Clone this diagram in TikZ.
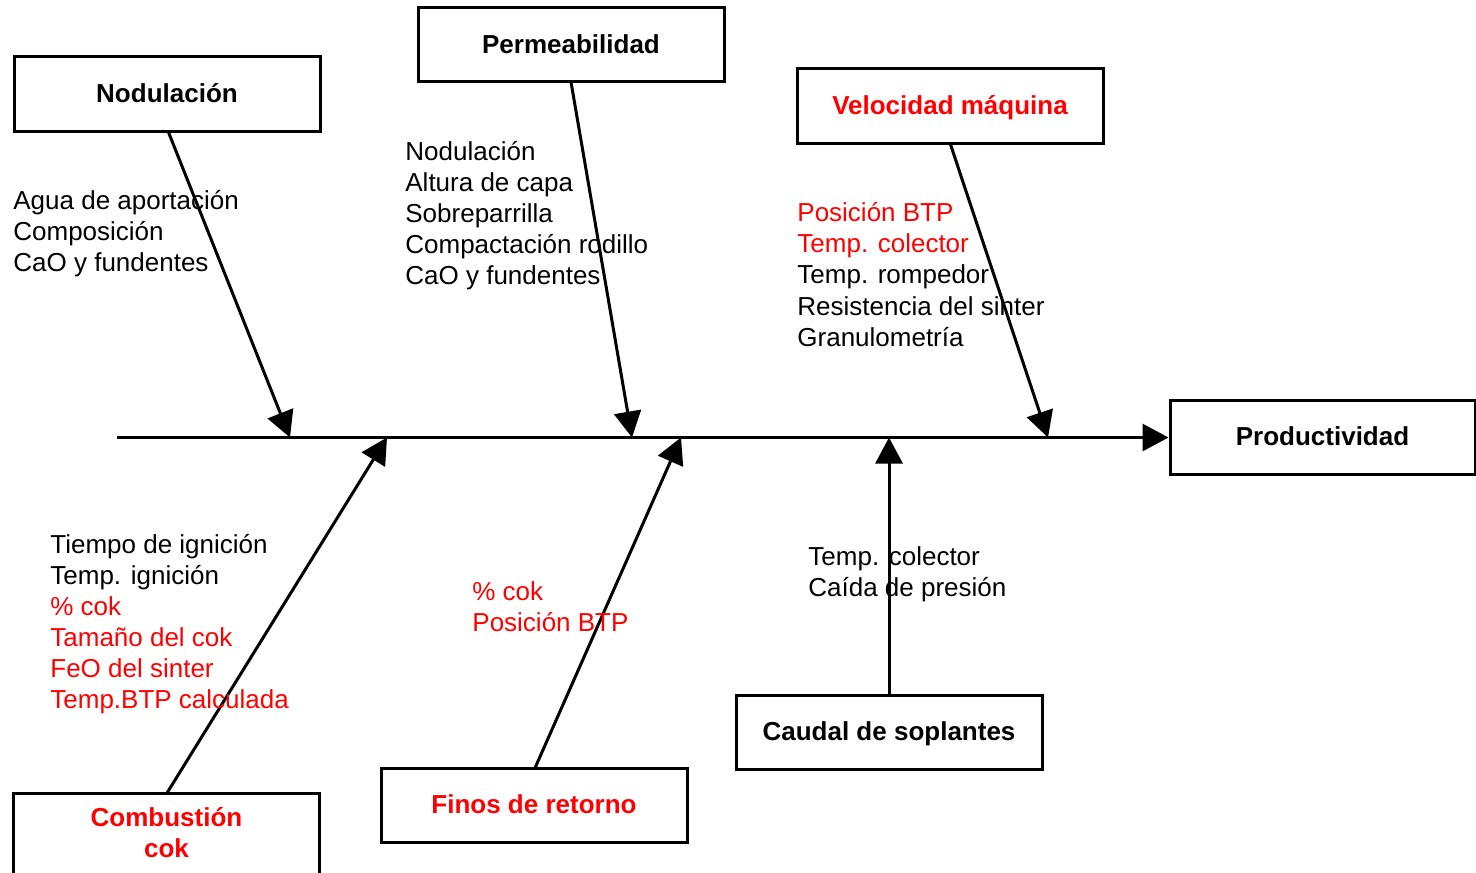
\documentclass[tikz,border=0pt]{standalone}
\usepackage{fontspec}
\setmainfont{Liberation Sans}
\usetikzlibrary{arrows.meta}
\definecolor{tred}{RGB}{255,0,0}
\begin{document}
\begin{tikzpicture}[x=0.5pt,y=-0.5pt,
  every node/.style={font=\fontsize{13}{15.5}\selectfont},
  box/.style={draw, line width=1.5pt, minimum width=153pt, minimum height=37pt, inner sep=0pt, text height=9.5pt, text depth=1.3pt, font=\fontsize{13}{15.5}\selectfont\bfseries, align=center},
  ln/.style={anchor=base west, inner sep=0pt},
  rd/.style={text=tred},
  arr/.style={line width=1.5pt, -{Triangle[length=13pt,width=13.5pt]}},
  seg/.style={line width=1.5pt}]
\clip (0,0) rectangle (1476,872);
\fill[white] (0,0) rectangle (1476,872);

% boxes
\node[box] (nod) at (167,94) {Nodulación};
\node[box] (perm) at (571,45) {Permeabilidad};
\node[box, text=tred] (vel) at (950,106) {Velocidad máquina};
\node[box, minimum width=152.5pt] (prod) at (1322.5,437.5) {Productividad};
\node[draw, line width=1.5pt, minimum width=153pt, minimum height=60pt, inner sep=0pt] (comb) at (166.5,853) {};
\node[font=\fontsize{13}{15.5}\selectfont\bfseries, text=tred, align=center, inner sep=0pt] (combt) at (166.5,833) {Combustión\\cok};
\node[box, text=tred] (finos) at (534,805) {Finos de retorno};
\node[box] (caud) at (889,732) {Caudal de soplantes};

% spine
\coordinate (s0) at (117,437.5);
\coordinate (p1) at (290,437.5);
\coordinate (p2) at (632,437.5);
\coordinate (p3) at (1048,437.5);
\coordinate (q1) at (387,437.5);
\coordinate (q2) at (681,437.5);
\coordinate (q3) at (889,437.5);
\coordinate (a1) at (168,131);
\coordinate (a2) at (571,82);
\coordinate (a3) at (950,143);
\coordinate (b1) at (167,793);
\coordinate (b2) at (535,768);
\coordinate (b3) at (889,695);
\draw[arr] (s0) -- (prod.west);
\draw[arr] (a1) -- (p1);
\draw[arr] (a2) -- (p2);
\draw[arr] (a3) -- (p3);
\draw[arr] (b1) -- (q1);
\draw[arr] (b2) -- (q2);
\draw[arr] (b3) -- (q3);

% texts
\node[ln] (t11) at (13,209) {Agua de aportación};
\node[ln] (t12) at (13,240) {Composición};
\node[ln] (t13) at (13,271) {CaO y fundentes};

\node[ln] (t21) at (405,160) {Nodulación};
\node[ln] (t22) at (405,191) {Altura de capa};
\node[ln] (t23) at (405,222) {Sobreparrilla};
\node[ln] (t24) at (405,253) {Compactación rodillo};
\node[ln] (t25) at (405,284) {CaO y fundentes};

\node[ln,rd] (t31) at (797,221) {Posición BTP};
\node[ln,rd] (t32) at (797,252) {Temp. colector};
\node[ln] (t33) at (797,283) {Temp. rompedor};
\node[ln] (t34) at (797,315) {Resistencia del sinter};
\node[ln] (t35) at (797,346) {Granulometría};

\node[ln] (t41) at (50,553) {Tiempo de ignición};
\node[ln] (t42) at (50,584) {Temp. ignición};
\node[ln,rd] (t43) at (50,615) {\% cok};
\node[ln,rd] (t44) at (50,646) {Tamaño del cok};
\node[ln,rd] (t45) at (50,677) {FeO del sinter};
\node[ln,rd] (t46) at (50,708) {Temp.BTP calculada};

\node[ln,rd] (t51) at (472,600) {\% cok};
\node[ln,rd] (t52) at (472,631) {Posición BTP};

\node[ln] (t61) at (808,565) {Temp. colector};
\node[ln] (t62) at (808,596) {Caída de presión};
\end{tikzpicture}
\end{document}
